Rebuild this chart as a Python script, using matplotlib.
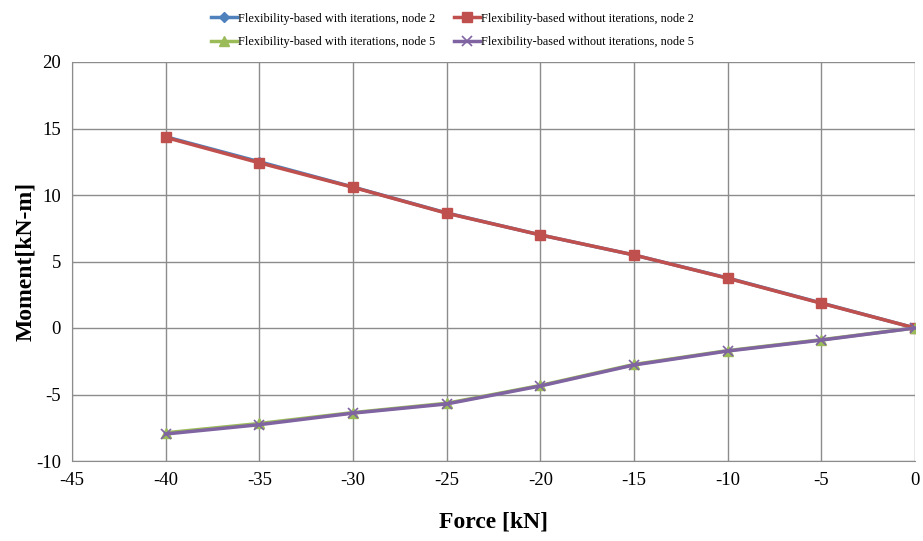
import matplotlib
matplotlib.use("Agg")
import matplotlib.pyplot as plt

force = [-40, -35, -30, -25, -20, -15, -10, -5, 0]
with_iter_n2 = [14.38, 12.50, 10.60, 8.65, 7.00, 5.49, 3.76, 1.88, 0.0]
without_iter_n2 = [14.33, 12.42, 10.58, 8.63, 7.00, 5.49, 3.74, 1.86, 0.0]
with_iter_n5 = [-7.88, -7.18, -6.36, -5.66, -4.32, -2.74, -1.70, -0.88, 0.0]
without_iter_n5 = [-7.97, -7.27, -6.40, -5.71, -4.36, -2.78, -1.73, -0.91, 0.0]

labels = [
    "Flexibility-based with iterations, node 2",
    "Flexibility-based without iterations, node 2",
    "Flexibility-based with iterations, node 5",
    "Flexibility-based without iterations, node 5",
]

plt.rcParams['font.family'] = ['Liberation Serif', 'DejaVu Serif']
plt.rcParams['axes.unicode_minus'] = False

fig = plt.figure(figsize=(9.23, 5.41), dpi=100)
ax = fig.add_axes([72 / 923, 1 - 461 / 541, (915 - 72) / 923, (461 - 62) / 541])

l1, = ax.plot(force, with_iter_n2, color='#4F81BD', lw=2.5, marker='D', ms=5, label=labels[0])
l2, = ax.plot(force, without_iter_n2, color='#C0504D', lw=2.5, marker='s', ms=7, label=labels[1])
l3, = ax.plot(force, with_iter_n5, color='#9BBB59', lw=2.5, marker='^', ms=7, label=labels[2])
l4, = ax.plot(force, without_iter_n5, color='#8064A2', lw=2.5, marker='x', ms=7, mew=1.2, label=labels[3])

ax.set_xlim(-45, 0)
ax.set_ylim(-10, 20)
ax.set_xticks(range(-45, 1, 5))
ax.set_yticks(range(-10, 21, 5))
ax.grid(True, color='#8c8c8c', lw=1)
ax.set_axisbelow(True)
for s in ax.spines.values():
    s.set_visible(False)
ax.spines['left'].set_visible(True)
ax.spines['bottom'].set_visible(True)
ax.spines['left'].set_color('#8c8c8c')
ax.spines['bottom'].set_color('#8c8c8c')
ax.tick_params(axis='both', labelsize=13.5, length=0, pad=8)

ax.set_xlabel('Force [kN]', fontsize=17, fontweight='bold', labelpad=16)
ax.set_ylabel('Moment[kN-m]', fontsize=17, fontweight='bold', labelpad=0)

# legend laid out row by row: node 2 pair on top, node 5 pair below
fig.legend(handles=[l1, l3, l2, l4], loc='upper center', bbox_to_anchor=(0.49, 0.997),
           ncol=2, frameon=False, fontsize=8.8, handlelength=2.1, handletextpad=0.1,
           columnspacing=1.55, labelspacing=0.95)

fig.savefig('out.png', dpi=100)
